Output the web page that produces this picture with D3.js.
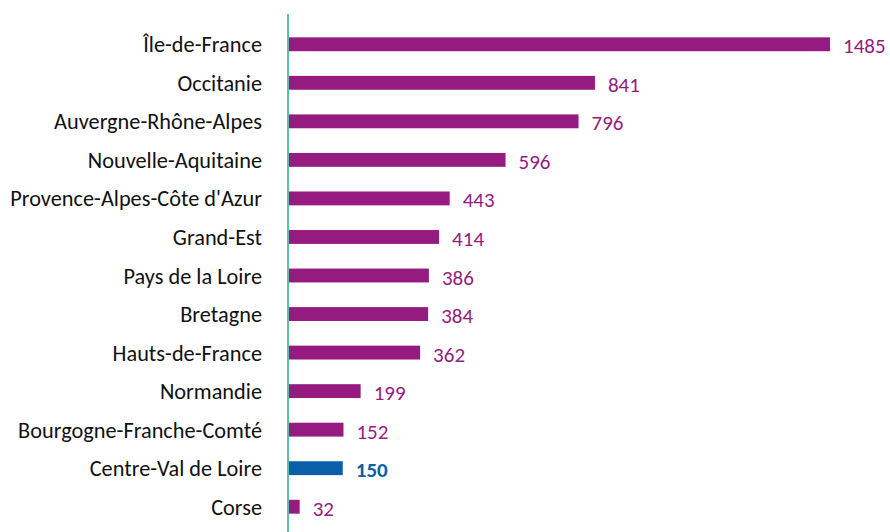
<!DOCTYPE html>
<html>
<head>
<meta charset="utf-8">
<script src="https://cdn.jsdelivr.net/npm/d3@7"></script>
<style>
  body { margin: 0; background: #fff; }
  svg text { font-family: Carlito, Calibri, Lato, "Open Sans", sans-serif; }
</style>
</head>
<body>
<svg width="890" height="532"></svg>
<script>
const regions = ["Île-de-France", "Occitanie", "Auvergne-Rhône-Alpes", "Nouvelle-Aquitaine",
  "Provence-Alpes-Côte d'Azur", "Grand-Est", "Pays de la Loire", "Bretagne", "Hauts-de-France",
  "Normandie", "Bourgogne-Franche-Comté", "Centre-Val de Loire", "Corse"];
const counts = [1485, 841, 796, 596, 443, 414, 386, 384, 362, 199, 152, 150, 32];
const highlight = "Centre-Val de Loire";

const svg = d3.select("svg"),
    width = +svg.attr("width"),
    height = +svg.attr("height");

const purple = "#951b80", blue = "#0b5ea8";
const x0 = 288;

const x = d3.scaleLinear().domain([0, 1485]).range([x0, 830]);
const y = d3.scaleBand().domain(regions).range([25, 526]).paddingInner(0.64).paddingOuter(0.32);

svg.append("g")
    .selectAll("rect")
    .data(regions)
    .enter().append("rect")
    .attr("x", x(0))
    .attr("y", d => y(d))
    .attr("width", (d, i) => x(counts[i]) - x(0))
    .attr("height", y.bandwidth())
    .attr("fill", d => d === highlight ? blue : purple);

// category labels
const yAxis = svg.append("g")
    .attr("transform", `translate(${x0},0)`)
    .call(d3.axisLeft(y).tickSize(0).tickPadding(26));
yAxis.select(".domain").remove();
yAxis.selectAll("text")
    .attr("fill", "#111")
    .style("font-size", "22.3px")
    .attr("dy", "0.36em");

// teal axis line
svg.append("line")
    .attr("x1", x0).attr("x2", x0)
    .attr("y1", 14).attr("y2", height)
    .attr("stroke", "#5cc0a2")
    .attr("stroke-width", 2);

// value labels
svg.append("g")
    .selectAll("text")
    .data(regions)
    .enter().append("text")
    .attr("x", (d, i) => x(counts[i]) + 13)
    .attr("y", d => y(d) + y.bandwidth() / 2)
    .attr("dy", "0.43em")
    .text((d, i) => counts[i])
    .attr("fill", d => d === highlight ? blue : purple)
    .style("font-weight", d => d === highlight ? "bold" : "normal")
    .style("font-size", "21px");
</script>
</body>
</html>
